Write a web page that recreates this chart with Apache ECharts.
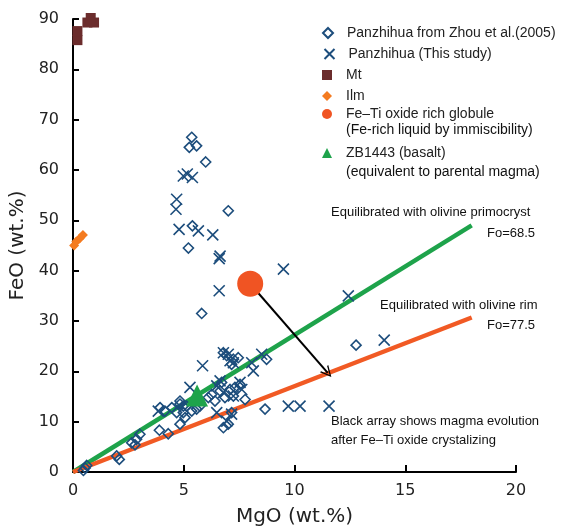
<!DOCTYPE html>
<html>
<head>
<meta charset="utf-8">
<script src="https://cdn.jsdelivr.net/npm/echarts@6/dist/echarts.min.js"></script>
<style>
  html, body { margin: 0; padding: 0; background: #fff; }
  #main { width: 574px; height: 528px; }
</style>
</head>
<body>
<div id="main"></div>
<script>
// MgO vs FeO, Panzhihua

const zhouData = [
    [0.47, 0.3], [0.55, 0.8], [0.62, 1.3],
    [1.97, 3.2], [2.09, 2.5],
    [2.65, 5.8], [2.8, 5.4], [2.87, 6.5], [3.02, 7.5],
    [3.9, 8.3], [4.3, 7.6],
    [3.93, 12.8], [4.15, 12.1], [4.46, 12.8], [4.83, 13.5], [4.68, 11.8], [4.83, 9.5], [5.06, 10.8], [4.98, 13.1],
    [4.83, 14.1], [5.13, 13.1], [5.36, 12.1], [5.58, 12.5], [5.73, 13.1], [4.98, 11.8],
    [6.11, 14.8], [6.26, 15.4], [6.41, 14.1], [6.86, 14.8], [7.24, 15.1], [7.77, 14.4],
    [6.71, 17.8], [7.09, 16.4], [7.31, 16.8], [7.54, 17.4], [6.64, 16.1],
    [7.16, 11.8], [6.79, 8.8], [7.01, 9.5],
    [6.79, 23.7], [6.94, 23.1], [7.24, 22.4], [7.16, 21.4], [7.46, 22.7], [8.74, 22.4],
    [8.67, 12.5], [12.78, 25.2], [5.81, 31.5],
    [5.36, 66.5], [5.25, 64.5], [5.58, 64.8], [5.99, 61.6], [7.01, 51.9], [5.39, 48.9], [5.21, 44.5]
];

const thisStudyData = [
    [3.85, 12.1], [5.28, 16.8], [5.85, 21.1],
    [6.79, 23.7], [7.01, 23.4], [7.09, 22.1], [7.24, 21.7], [8.07, 21.7], [8.14, 20.1], [8.52, 23.4],
    [6.49, 17.1], [6.64, 18.1], [6.79, 15.8], [7.24, 15.1], [7.54, 17.8], [7.62, 16.4],
    [6.49, 11.8], [6.94, 10.1], [7.16, 11.5],
    [9.72, 13.1], [10.25, 13.1], [11.56, 13.1],
    [9.5, 40.3], [12.43, 35.0], [14.05, 26.2],
    [6.6, 36.0], [6.6, 42.4], [6.64, 42.9], [6.31, 47.1], [5.66, 47.9], [4.79, 48.2],
    [4.65, 52.2], [4.68, 54.2], [4.98, 58.8], [5.16, 59.2], [5.39, 58.5]
];

const mtData = [[0.2, 85.8], [0.2, 87.6], [0.65, 89.3], [0.95, 89.3], [0.8, 90.2]];
const ilmData = [[0.05, 45.0], [0.15, 45.8], [0.3, 46.4], [0.45, 47.1]];
const globuleData = [[8.0, 37.4]];
const basaltData = [[5.6, 15.2]];

const primocrystLine = [[0, 0], [18, 49]];
const rimLine = [[0, 0], [18, 30.7]];
const evolutionArrow = [[8.0, 37.4], [11.5, 19.7]];

const xTicks = [0, 5, 10, 15, 20];
const yTicks = [0, 10, 20, 30, 40, 50, 60, 70, 80, 90];

const names = [
    'Panzhihua from Zhou et al.(2005)',
    'Panzhihua (This study)',
    'Mt',
    'Ilm',
    'Fe–Ti oxide rich globule',
    'ZB1443 (basalt)'
];
const legendSubLines = ['(Fe-rich liquid by immiscibility)', '(equivalent to parental magma)'];

const navy = '#1c4d7c';
const font = '"Liberation Sans", Arial, sans-serif';
const crossPath = 'path://M0,0L10,10M10,0L0,10';

const chartDom = document.getElementById('main');
let chart = echarts.init(chartDom);

function legendAt(name, rowY) {
    return {
        data: [name],
        left: 322,
        top: rowY - 8,
        padding: 0,
        itemWidth: 10,
        itemHeight: 10,
        selectedMode: false,
        textStyle: {
            fontFamily: font,
            fontSize: 14,
            color: '#222',
            lineHeight: 16,
            padding: [0, 0, 0, 9]
        }
    };
}

function note(text, left, top, size) {
    return {
        type: 'text', left: left, top: top,
        style: { text: text, font: (size || 13) + 'px ' + font, fill: '#111' }
    };
}

let option = {
    animation: false,
    backgroundColor: '#fff',
    textStyle: { fontFamily: font },
    grid: { left: 73, right: 58, top: 19, bottom: 56, outerBoundsMode: 'none' },
    legend: [
        legendAt(names[0], 33),
        legendAt(names[1], 54),
        legendAt(names[2], 75),
        legendAt(names[3], 96),
        legendAt(names[4], 114),
        legendAt(names[5], 153)
    ],
    xAxis: {
        type: 'value',
        min: xTicks[0],
        max: xTicks[xTicks.length - 1],
        interval: 5,
        name: 'MgO (wt.%)',
        nameLocation: 'middle',
        nameGap: 35,
        nameTextStyle: { fontSize: 20, color: '#222', fontFamily: 'DejaVu Sans' },
        axisLine: { lineStyle: { color: '#000', width: 2 } },
        axisTick: { inside: true, length: 7, lineStyle: { color: '#000', width: 2 } },
        axisLabel: { fontSize: 16, color: '#222', margin: 11, fontFamily: 'DejaVu Sans' },
        splitLine: { show: false }
    },
    yAxis: {
        type: 'value',
        min: yTicks[0],
        max: yTicks[yTicks.length - 1],
        interval: 10,
        name: 'FeO (wt.%)',
        nameLocation: 'middle',
        nameGap: 37,
        nameTextStyle: { fontSize: 20, color: '#222', fontFamily: 'DejaVu Sans' },
        axisLine: { lineStyle: { color: '#000', width: 2 } },
        axisTick: { inside: true, length: 6, lineStyle: { color: '#000', width: 2 } },
        axisLabel: { fontSize: 16, color: '#222', margin: 14, fontFamily: 'DejaVu Sans' },
        splitLine: { show: false }
    },
    series: [
        {
            name: 'primocryst',
            type: 'line',
            data: primocrystLine,
            showSymbol: false,
            lineStyle: { color: '#1ea34b', width: 4.5 },
            z: 1
        },
        {
            name: 'rim',
            type: 'line',
            data: rimLine,
            showSymbol: false,
            lineStyle: { color: '#f15a24', width: 4.5 },
            z: 1
        },
        {
            name: 'arrow',
            type: 'lines',
            coordinateSystem: 'cartesian2d',
            data: [{ coords: evolutionArrow }],
            symbol: ['none', 'path://M0,10L5,0L10,10L8.6,10L5,2.4L1.4,10Z'],
            symbolSize: [14, 11],
            lineStyle: { color: '#000', width: 2, opacity: 1 },
            z: 2
        },
        {
            name: names[0],
            type: 'scatter',
            data: zhouData,
            symbol: 'diamond',
            symbolSize: 10,
            itemStyle: { color: 'rgba(255,255,255,0)', borderColor: navy, borderWidth: 1.6, opacity: 1 },
            z: 3
        },
        {
            name: names[1],
            type: 'scatter',
            data: thisStudyData,
            symbol: crossPath,
            symbolSize: 11,
            itemStyle: { color: 'none', borderColor: navy, borderWidth: 1.6, opacity: 1 },
            z: 3
        },
        {
            name: names[2],
            type: 'scatter',
            data: mtData,
            symbol: 'rect',
            symbolSize: 10,
            clip: false,
            itemStyle: { color: '#6b2c2c', opacity: 1 },
            z: 3
        },
        {
            name: names[3],
            type: 'scatter',
            data: ilmData,
            symbol: 'diamond',
            symbolSize: 10,
            itemStyle: { color: '#f47b20', opacity: 1 },
            z: 3
        },
        {
            name: names[4],
            type: 'scatter',
            data: globuleData,
            symbol: 'circle',
            symbolSize: 26,
            itemStyle: { color: '#f05423', opacity: 1 },
            z: 4
        },
        {
            name: names[5],
            type: 'scatter',
            data: basaltData,
            symbol: 'triangle',
            symbolSize: 22,
            itemStyle: { color: '#1ea34b', opacity: 1 },
            z: 4
        }
    ],
    graphic: [
        note(legendSubLines[0], 346, 123, 14),
        note(legendSubLines[1], 346, 165, 14),
        note('Equilibrated with olivine primocryst', 331, 206),
        note('Fo=68.5', 487, 227),
        note('Equilibrated with olivine rim', 380, 299),
        note('Fo=77.5', 487, 319),
        note('Black array shows magma evolution', 331, 415),
        note('after Fe–Ti oxide crystalizing', 331, 434)
    ]
};

option && chart.setOption(option);
</script>
</body>
</html>
